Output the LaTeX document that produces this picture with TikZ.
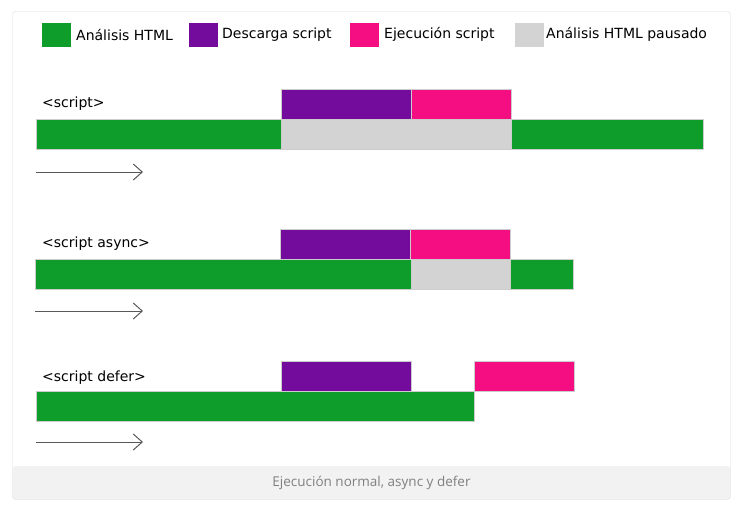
\documentclass[tikz,border=0pt]{standalone}
\usepackage{fontspec}
\setmainfont{DejaVu Sans}
\newfontfamily\piefont{Open Sans}
\usetikzlibrary{positioning, arrows.meta}
\definecolor{verdehtml}{RGB}{14,156,42}
\definecolor{moradodesc}{RGB}{115,12,156}
\definecolor{rosaejec}{RGB}{244,14,130}
\definecolor{grispausa}{RGB}{211,211,211}
\definecolor{bordemarco}{RGB}{221,221,221}
\definecolor{fondopie}{RGB}{242,242,242}
\tikzset{
  bar/.style={rectangle, anchor=north west, inner sep=0pt, outer sep=0pt, minimum height=30pt, draw=white!80!black, line width=0.4pt},
  legbox/.style={rectangle, inner sep=0pt, outer sep=0pt, minimum width=29pt, minimum height=24pt},
  legtext/.style={inner sep=0pt, font=\fontsize{14}{16}\selectfont},
  rowlabel/.style={anchor=west, inner sep=0pt, font=\fontsize{14}{16}\selectfont},
  timearrow/.style={draw=black!65, line width=1pt, -{Straight Barb[length=9pt, width=16pt]}}
}
\begin{document}
\begin{tikzpicture}[x=1pt, y=-1pt]
  \useasboundingbox (0,0) rectangle (746,514);

  % Marco y pie
  \fill[fondopie, rounded corners=3pt] (12.5,466) rectangle (730.5,499.5);
  \draw[bordemarco, rounded corners=3pt] (12.5,11.5) rectangle (730.5,499.5);
  \node (pie) [text=black!50, font=\piefont\fontsize{13.5}{16}\selectfont] at (371.5,483) {Ejecución normal, async y defer};

  % Leyenda
  \node (leg1) [legbox, fill=verdehtml] at (56.5,34.5) {};
  \node (leg1t) [legtext, right=5pt of leg1] {Análisis HTML};
  \node (leg2) [legbox, fill=moradodesc] at (203.5,34.5) {};
  \node (leg2t) [legtext, right=4pt of leg2] {Descarga script};
  \node (leg3) [legbox, fill=rosaejec] at (364.5,34.5) {};
  \node (leg3t) [legtext, right=5pt of leg3] {Ejecución script};
  \node (leg4) [legbox, fill=grispausa] at (529.5,34.5) {};
  \node (leg4t) [legtext, right=2pt of leg4] {Análisis HTML pausado};

  % Fila 1: <script>
  \node (r1lab) [rowlabel] at (42,104) {<script>};
  \node (r1html) [bar, fill=verdehtml, minimum width=245pt] at (36,119) {};
  \node (r1pausa) [bar, fill=grispausa, minimum width=230pt, right=0pt of r1html] {};
  \node (r1resto) [bar, fill=verdehtml, minimum width=192pt, right=0pt of r1pausa] {};
  \node (r1desc) [bar, fill=moradodesc, minimum width=130pt, above right=0pt and 0pt of r1html] {};
  \node (r1ejec) [bar, fill=rosaejec, minimum width=100pt, right=0pt of r1desc] {};
  \coordinate (r1ini) at ([yshift=-23pt]r1html.south west);
  \coordinate (r1fin) at ([xshift=107pt]r1ini);
  \draw[timearrow] (r1ini) -- (r1fin);

  % Fila 2: <script async>
  \node (r2lab) [rowlabel] at (42,244) {<script async>};
  \node (r2html) [bar, fill=verdehtml, minimum width=376pt] at (35,259) {};
  \node (r2pausa) [bar, fill=grispausa, minimum width=99pt, right=0pt of r2html] {};
  \node (r2resto) [bar, fill=verdehtml, minimum width=63pt, right=0pt of r2pausa] {};
  \node (r2desc) [bar, fill=moradodesc, minimum width=130pt] at (280,229) {};
  \node (r2ejec) [bar, fill=rosaejec, minimum width=100pt, right=0pt of r2desc] {};
  \coordinate (r2ini) at ([yshift=-22pt]r2html.south west);
  \coordinate (r2fin) at ([xshift=108pt]r2ini);
  \draw[timearrow] (r2ini) -- (r2fin);

  % Fila 3: <script defer>
  \node (r3lab) [rowlabel] at (42,378) {<script defer>};
  \node (r3html) [bar, fill=verdehtml, minimum width=438pt] at (36,391) {};
  \node (r3desc) [bar, fill=moradodesc, minimum width=130pt] at (281,361) {};
  \node (r3ejec) [bar, fill=rosaejec, minimum width=100pt, above right=0pt and 0pt of r3html] {};
  \coordinate (r3ini) at ([yshift=-21pt]r3html.south west);
  \coordinate (r3fin) at ([xshift=107pt]r3ini);
  \draw[timearrow] (r3ini) -- (r3fin);
\end{tikzpicture}
\end{document}
